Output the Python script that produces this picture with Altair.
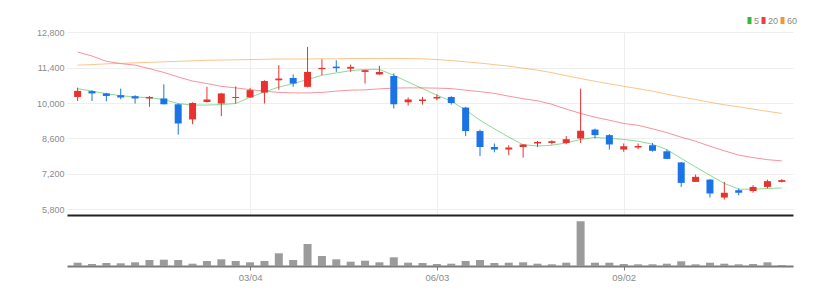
import json
import altair as alt
import pandas as pd

# ---------------- data (weekly candles) ----------------
start_date = "2023-12-11"
opens = [10240, 10470, 10380, 10310, 10270, 10180, 10180, 9950, 9350, 10040,
         9980, 10200, 10220, 10410, 10900, 10990, 10640, 11340, 11440, 11360,
         11230, 11130, 11070, 10030, 10080, 10180, 10240, 9820, 8890, 8260,
         8160, 8260, 8400, 8420, 8420, 8600, 8950, 8730, 8160, 8240,
         8330, 8090, 7650, 6880, 6970, 6260, 6550, 6520, 6680, 6880]
highs = [10610, 10510, 10400, 10570, 10310, 10280, 10740, 9980, 10030, 10640,
         10400, 10660, 10600, 10900, 11500, 11130, 12220, 11730, 11690, 11520,
         11310, 11470, 11170, 10220, 10240, 10340, 10270, 9850, 8950, 8400,
         8330, 8370, 8500, 8530, 8690, 10570, 8990, 8770, 8400, 8400,
         8420, 8160, 7670, 7170, 6990, 6880, 6620, 6750, 6970, 6990]
lows = [10080, 10080, 10070, 10150, 9980, 9850, 9950, 8750, 9160, 10020,
        9480, 9980, 10200, 9980, 10530, 10640, 10620, 11100, 11230, 11230,
        10770, 11110, 9780, 9900, 9940, 10110, 9940, 8690, 7900, 8050,
        7940, 7840, 8260, 8360, 8370, 8420, 8600, 8160, 8070, 8170,
        8080, 7790, 6680, 6880, 6260, 6180, 6350, 6450, 6620, 6860]
closes = [10480, 10380, 10280, 10220, 10180, 10240, 9950, 9190, 10000, 10140,
          10380, 10240, 10510, 10870, 10970, 10770, 11230, 11390, 11380, 11430,
          11300, 11230, 9950, 10140, 10140, 10240, 10000, 8890, 8260, 8160,
          8240, 8360, 8460, 8490, 8570, 8900, 8730, 8360, 8290, 8300,
          8110, 7790, 6840, 7080, 6420, 6450, 6450, 6680, 6910, 6950]
ma5 = [10570, 10470, 10370, 10290, 10240, 10210, 10140, 9980, 9920, 9920,
       9940, 9980, 10230, 10440, 10630, 10770, 10930, 11100, 11190, 11280,
       11330, 11330, 11100, 10830, 10570, 10310, 10070, 9720, 9320, 8980,
       8650, 8350, 8300, 8330, 8420, 8560, 8640, 8600, 8560, 8490,
       8370, 8160, 7810, 7470, 7140, 6820, 6590, 6590, 6620, 6640]
ma20 = [12020, 11860, 11650, 11560, 11500, 11360, 11210, 11030, 10870, 10770,
        10660, 10600, 10530, 10470, 10420, 10400, 10400, 10420, 10470, 10510,
        10520, 10560, 10590, 10600, 10600, 10590, 10570, 10510, 10450, 10380,
        10270, 10170, 10090, 9950, 9760, 9590, 9440, 9320, 9190, 9120,
        8980, 8830, 8650, 8490, 8290, 8110, 7940, 7840, 7760, 7710]
ma60 = [11500, 11520, 11550, 11570, 11590, 11610, 11630, 11650, 11670, 11690,
        11700, 11710, 11720, 11730, 11740, 11740, 11740, 11750, 11750, 11760,
        11760, 11760, 11760, 11760, 11750, 11720, 11680, 11630, 11580, 11520,
        11460, 11380, 11300, 11200, 11080, 10970, 10860, 10760, 10660, 10570,
        10470, 10350, 10240, 10140, 10030, 9930, 9850, 9760, 9670, 9590]
volumes = [33, 20, 30, 27, 37, 60, 63, 60, 23, 50,
           67, 50, 37, 50, 127, 60, 220, 100, 67, 43,
           53, 37, 87, 33, 30, 20, 23, 50, 60, 30,
           33, 37, 23, 17, 33, 447, 33, 33, 20, 17,
           17, 23, 47, 17, 33, 23, 17, 20, 37, 10]  # thousand shares
tick_labels = ["03/04", "06/03", "09/02"]
price_ticks = [5800, 7200, 8600, 10000, 11400, 12800]
ma_names = ["5", "20", "60"]

# ---------------- tables ----------------
n = len(closes)
dates = pd.date_range(start_date, periods=n, freq="7D")
labels = list(dates.strftime("%m/%d"))
df = pd.DataFrame({
    "i": list(range(n)), "label": labels,
    "open": opens, "high": highs, "low": lows, "close": closes,
    "volume": [v * 1000 for v in volumes],
})
ma_df = pd.concat([
    pd.DataFrame({"i": list(range(n)), "series": name, "value": vals})
    for name, vals in zip(ma_names, [ma5, ma20, ma60])
])
tick_idx = [labels.index(t) for t in tick_labels]
label_expr = json.dumps(labels).replace('"', "'") + "[datum.value]"

FONT = "Liberation Sans Narrow, Liberation Sans, Arial, sans-serif"
RED = "#e8322f"
BLUE = "#1b74e6"
MA_COLORS = ["#2bbd3a", "#ef3b4a", "#f5962d"]

xscale = alt.Scale(domain=[-0.39, 49.43], nice=False, zero=False)
yscale = alt.Scale(domain=[5570, 12810], nice=False, zero=False)
candle_color = alt.condition("datum.close >= datum.open", alt.value(RED), alt.value(BLUE))

x_axis_price = alt.Axis(values=tick_idx, labels=False, ticks=False, grid=True,
                        gridColor="#eeeeee", domainColor="#222222", domainWidth=2,
                        minExtent=0, maxExtent=0, title=None)
y_axis = alt.Axis(values=price_ticks, format=",.0f", grid=True, gridColor="#eeeeee",
                  domain=False, ticks=False, labelPadding=3, labelColor="#8a8a8a",
                  labelFontSize=9, labelFont=FONT, labelOverlap=False, title=None)


def xp():
    return alt.X("i:Q", scale=xscale, axis=x_axis_price)


def yp(field):
    return alt.Y(field, scale=yscale, axis=y_axis)


lines = alt.Chart(ma_df).mark_line(strokeWidth=1, strokeOpacity=0.55).encode(
    x=xp(),
    y=yp("value:Q"),
    color=alt.Color("series:N", sort=ma_names,
                    scale=alt.Scale(domain=ma_names, range=MA_COLORS),
                    legend=alt.Legend(orient="none", legendX=678, legendY=-16,
                                      direction="horizontal", title=None,
                                      gridAlign="none",
                                      symbolType="M0,-2L0,2", symbolSize=12.25,
                                      symbolStrokeWidth=4, symbolOpacity=1,
                                      labelFontSize=9, labelColor="#8a8a8a",
                                      labelFont=FONT, labelOffset=0,
                                      columnPadding=-5, padding=0)),
)
wicks = alt.Chart(df).mark_rule(strokeWidth=1).encode(
    x=xp(), y=yp("low:Q"), y2="high:Q", color=candle_color,
)
bodies = alt.Chart(df).mark_bar(size=7).encode(
    x=xp(), y=yp("open:Q"), y2="close:Q", color=candle_color,
)
price = alt.layer(lines, wicks, bodies).properties(width=726, height=183)

volume = alt.Chart(df).mark_bar(size=8, color="#9b9b9b").encode(
    x=alt.X("i:Q", scale=xscale, title=None,
            axis=alt.Axis(values=tick_idx, labelExpr=label_expr, grid=False,
                          domainColor="#7a7a7a", domainWidth=2, tickColor="#7a7a7a",
                          tickSize=4, labelColor="#8a8a8a", labelFontSize=9.5,
                          labelFont=FONT, labelPadding=2)),
    y=alt.Y("volume:Q", scale=alt.Scale(domain=[0, 510000], nice=False), axis=None),
).properties(width=726, height=51)

chart = alt.vconcat(price, volume, spacing=0).properties(
    padding={"left": 36, "top": 16, "right": 20, "bottom": 10}
).configure_view(strokeWidth=0)

chart.save("out.html", embed_options={"renderer": "svg", "actions": False})
